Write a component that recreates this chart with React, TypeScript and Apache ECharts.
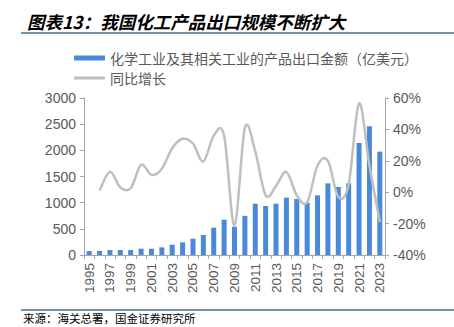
import React, { useEffect, useRef } from "react";
import * as echarts from "echarts";

const years = ["1995","1996","1997","1998","1999","2000","2001","2002","2003","2004","2005","2006","2007","2008","2009","2010","2011","2012","2013","2014","2015","2016","2017","2018","2019","2020","2021","2022","2023"];
const exportValues = [76, 78, 95, 95, 95, 121, 120, 146, 197, 242, 312, 382, 522, 675, 541, 748, 981, 936, 981, 1096, 1070, 1000, 1140, 1369, 1299, 1369, 2140, 2459, 1975];
const growthValues: (number | null)[] = [null, 1, 13, 3, 2.5, 17.5, 11, 15, 28, 34, 31, 19.5, 36, 36, -21, 41, 26, -2, 4, 13, -2, -6.5, 17, 20, -3, 5, 56.5, 17, -19];

const barName = "化学工业及其相关工业的产品出口金额（亿美元）";
const lineName = "同比增长";
const titleText = "图表13：我国化工产品出口规模不断扩大";
const sourceText = "来源：海关总署，国金证券研究所";

export default function App() {
  const ref = useRef<HTMLDivElement>(null);
  useEffect(() => {
    if (!ref.current) return;
    const chart = echarts.init(ref.current, null, { renderer: "svg" });
    const axisColor = "#A6A6A6";
    const labelColor = "#595959";
    const lineColor = "#BFBFBF";
    const numFont = "Liberation Sans, Arial, sans-serif";
    const cjkFont = "Noto Sans CJK SC, sans-serif";
    const legendText = { fontSize: 14, color: labelColor, fontFamily: cjkFont };
    const lastIndex = growthValues.length - 1;

    const renderLine = (params: any, api: any) => {
      if (params.dataIndex !== lastIndex) return null;
      const pts: number[][] = [];
      growthValues.forEach((v, i) => {
        if (v !== null) pts.push(api.coord([i, v]));
      });
      if (pts.length < 2) return null;
      const t = 1 / 6;
      let d = `M${pts[0][0]},${pts[0][1]}`;
      for (let i = 0; i < pts.length - 1; i++) {
        const p0 = pts[i - 1] || pts[i];
        const p1 = pts[i];
        const p2 = pts[i + 1];
        const p3 = pts[i + 2] || p2;
        const c1x = p1[0] + (p2[0] - p0[0]) * t;
        const c1y = p1[1] + (p2[1] - p0[1]) * t;
        const c2x = p2[0] - (p3[0] - p1[0]) * t;
        const c2y = p2[1] - (p3[1] - p1[1]) * t;
        d += ` C${c1x},${c1y} ${c2x},${c2y} ${p2[0]},${p2[1]}`;
      }
      return {
        type: "path",
        shape: { pathData: d },
        style: { stroke: lineColor, lineWidth: 2.5, fill: "none" },
      };
    };

    chart.setOption({
      animation: false,
      backgroundColor: "#ffffff",
      title: {
        text: titleText,
        left: 22,
        top: 8,
        textStyle: { fontSize: 17.5, fontWeight: "bold", fontStyle: "italic", color: "#000", fontFamily: cjkFont },
      },
      legend: [
        {
          left: 69,
          top: 46,
          itemWidth: 31,
          itemHeight: 5,
          textStyle: legendText,
          data: [{ name: barName, icon: "rect" }],
        },
        {
          left: 69,
          top: 66,
          itemWidth: 31,
          itemHeight: 3,
          textStyle: legendText,
          data: [{ name: lineName, icon: "rect" }],
        },
      ],
      grid: { left: 84, right: 69, top: 98, bottom: 72, containLabel: false },
      xAxis: {
        type: "category",
        data: years,
        axisLine: { lineStyle: { color: axisColor, width: 1 } },
        axisTick: { show: true, interval: 0, length: 4, lineStyle: { color: axisColor } },
        axisLabel: { interval: 1, rotate: 90, color: labelColor, fontSize: 13.5, fontFamily: numFont, margin: 8 },
      },
      yAxis: [
        {
          type: "value",
          min: 0,
          max: 3000,
          interval: 500,
          splitLine: { show: false },
          axisLine: { show: true, lineStyle: { color: axisColor } },
          axisTick: { show: true, length: 4, lineStyle: { color: axisColor } },
          axisLabel: { color: labelColor, fontSize: 14, fontFamily: numFont, margin: 8, formatter: (v: number) => String(v) },
        },
        {
          type: "value",
          min: -40,
          max: 60,
          interval: 20,
          splitLine: { show: false },
          axisLine: { show: true, lineStyle: { color: axisColor } },
          axisTick: { show: true, length: 4, lineStyle: { color: axisColor } },
          axisLabel: { color: labelColor, fontSize: 14, fontFamily: numFont, margin: 8, formatter: "{value}%" },
        },
      ],
      series: [
        {
          name: barName,
          type: "bar",
          data: exportValues,
          barWidth: 5,
          itemStyle: { color: "#4A89D8" },
        },
        {
          name: lineName,
          type: "custom",
          yAxisIndex: 1,
          data: growthValues.map((v, i) => [i, v === null ? 0 : v]),
          encode: { x: 0, y: 1 },
          renderItem: renderLine,
          itemStyle: { color: lineColor },
          clip: false,
          z: 3,
        },
      ],
      graphic: [
        { type: "line", shape: { x1: 21, y1: 33, x2: 454, y2: 33 }, style: { stroke: "#41708D", lineWidth: 1.5 } },
        { type: "line", shape: { x1: 21, y1: 310, x2: 454, y2: 310 }, style: { stroke: "#41708D", lineWidth: 1.5 } },
        {
          type: "text",
          left: 23,
          top: 312,
          style: { text: sourceText, fontSize: 11.5, fill: "#000", fontFamily: cjkFont },
        },
      ],
    });
    return () => chart.dispose();
  }, []);
  return <div ref={ref} style={{ width: 454, height: 327, position: "absolute", left: 0, top: 0 }} />;
}
